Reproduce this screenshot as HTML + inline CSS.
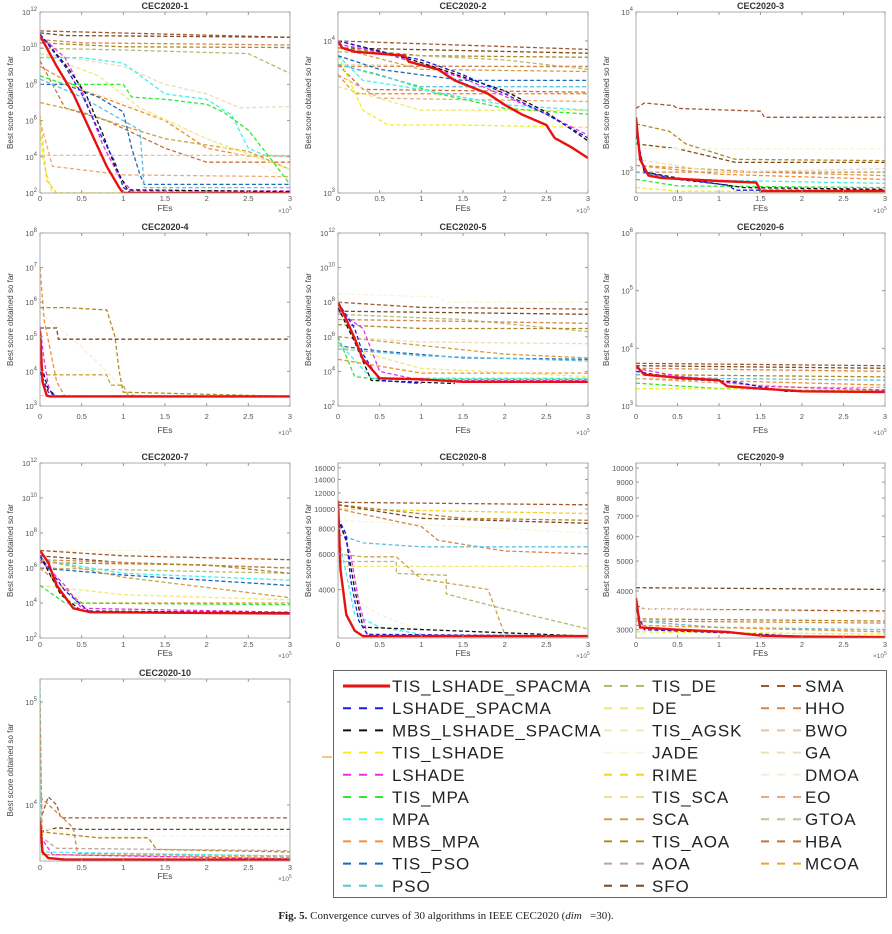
<!DOCTYPE html>
<html><head><meta charset="utf-8">
<style>
body{margin:0;background:#fff;width:892px;height:934px;overflow:hidden;font-family:"Liberation Sans",sans-serif}
#wrap{position:relative;width:892px;height:934px}
svg{position:absolute;left:0;top:0}
.cap{position:absolute;left:0;width:892px;top:910px;text-align:center;font-family:"Liberation Serif",serif;font-size:11px;color:#222}
</style></head><body>
<div id="wrap">
<svg id="fig" width="892" height="934"></svg>
<div class="cap"><b>Fig. 5.</b> Convergence curves of 30 algorithms in IEEE CEC2020 (<i>dim</i> &nbsp;&nbsp;=30).</div>
</div>
<script>
const names=["TIS_LSHADE_SPACMA","LSHADE_SPACMA","MBS_LSHADE_SPACMA","TIS_LSHADE","LSHADE","TIS_MPA","MPA","MBS_MPA","TIS_PSO","PSO","TIS_DE","DE","TIS_AGSK","JADE","RIME","TIS_SCA","SCA","TIS_AOA","AOA","SFO","SMA","HHO","BWO","GA","DMOA","EO","GTOA","HBA","MCOA"];
const colors=["#e81010","#1a1ae8","#111111","#f0f020","#e830e8","#30e830","#40f0f0","#f09030","#1a6ab8","#60c0e0","#b8b870","#f0e878","#f0ecb8","#f8f4d8","#f8d020","#ece090","#d0a040","#b08a20","#c8a0a0","#7a4a20","#a05830","#d08850","#e8c0a0","#ecdcb8","#f6f0d8","#eca878","#cfbca0","#c87038","#f0a820"];
const titles=["CEC2020-1","CEC2020-2","CEC2020-3","CEC2020-4","CEC2020-5","CEC2020-6","CEC2020-7","CEC2020-8","CEC2020-9","CEC2020-10"];
const yMin=[1e2,1000,740,1e3,1e2,1e3,1e2,2300,2820,2860];
const yMax=[1e12,15500,1e4,1e8,1e12,1e6,1e12,16900,10380,167000];
const yTicks=[[1e2,1e4,1e6,1e8,1e10,1e12],[1e3,1e4],[1e3,1e4],[1e3,1e4,1e5,1e6,1e7,1e8],[1e2,1e4,1e6,1e8,1e10,1e12],[1e3,1e4,1e5,1e6],[1e2,1e4,1e6,1e8,1e10,1e12],[4000,6000,8000,10000,12000,14000,16000],[3000,4000,5000,6000,7000,8000,9000,10000],[1e4,1e5]];
const yPowLabels=[true,true,true,true,true,true,true,false,false,true];
const xTicks=[0,0.5,1,1.5,2,2.5,3];
// series per panel: [seriesIndex, [[FEs(1e5), best score], ...]]
const p1=[[20,[[0,9e10],[3,4e10]]],[19,[[0,7e10],[0.3,5e10],[3,4e10]]],[21,[[0,3e10],[0.5,2e10],[3,1.5e10]]],[17,[[0,2e10],[1,1.2e10],[3,1.1e10]]],[10,[[0,1e10],[1,8e9],[2.5,5e9],[3,4e8]]],[23,[[0,5e9],[1,1e9],[1.5,1e8],[2,3e7],[2.4,5e6],[3,6e6]]],[7,[[0,1e9],[0.5,5e7],[1.5,1e6],[2,3e4],[2.5,1.1e4],[3,1.1e4]]],[27,[[0,2e9],[0.3,5e6],[0.8,1e6],[1.5,3e4],[2,5e3],[3,5e3]]],[22,[[0,1.2e4],[3,1.2e4]]],[25,[[0,1e6],[0.15,3e3],[1,1e3],[3,8e2]]],[16,[[0,1e7],[0.5,3e6],[1,5e5],[1.5,1e5],[2.5,2e4],[3,2e3]]],[3,[[0,3e5],[0.05,3e3],[0.15,1e2],[3,1e2]]],[11,[[0,5e9],[0.7,3e8],[1.2,5e6],[2,1e5],[3,2e3]]],[13,[[0,3e8],[1,1e7],[2,1e5],[3,5e2]]],[14,[[0,2e6],[0.08,5e2],[0.2,1e2],[3,1e2]]],[6,[[0,3e9],[0.5,3e9],[1,1.5e9],[1.5,3e7],[2,1.5e7],[2.3,2e6],[2.5,3e4],[2.7,1.2e4],[3,1.1e4]]],[5,[[0,3e8],[0.3,1e8],[1,1e8],[1.1,2e7],[1.5,1.5e7],[2,8e6],[2.2,3e6],[2.5,3e5],[2.8,5e3],[3,3e2]]],[8,[[0,1e8],[0.3,1e8],[0.7,2e7],[1,3e6],[1.1,3e4],[1.2,1e3],[1.25,3e2],[3,3e2]]],[9,[[0,2e8],[0.5,2e7],[1.2,3e5],[1.25,2e2],[3,2e2]]],[4,[[0,5e10],[0.3,3e9],[0.5,5e7],[0.75,5e4],[0.95,8e2],[1.1,1.3e2],[3,1.3e2]]],[2,[[0,6e10],[0.32,1e9],[0.55,3e7],[0.75,2e5],[0.9,3e3],[1.05,1.5e2],[3,1.2e2]]],[1,[[0,6e10],[0.3,1e9],[0.5,3e7],[0.7,3e5],[0.9,5e3],[1,2e2],[1.1,1e2],[3,1e2]]],[0,[[0,5e10],[0.2,1e9],[0.4,3e7],[0.6,3e5],[0.8,3e3],[0.95,2e2],[1,1e2],[3,1e2]]]];
const p2=[[20,[[0,1e4],[3,8800]]],[19,[[0,9000],[3,8300]]],[17,[[0,9000],[1,8000],[3,7800]]],[10,[[0,8500],[2,7500],[3,6500]]],[16,[[0,9000],[1,6500],[3,6300]]],[23,[[0,7000],[3,6700]]],[21,[[0,6800],[3,6800]]],[7,[[0,6000],[0.2,4500],[3,4500]]],[27,[[0,7000],[0.3,4800],[3,4600]]],[25,[[0,6000],[0.5,4200],[3,4000]]],[11,[[0,5000],[1,3500],[3,3500]]],[3,[[0,8000],[0.3,3500],[0.6,2800],[1.5,2800],[3,2700]]],[5,[[0,7000],[0.5,6000],[1.2,4500],[2,3600],[3,3300]]],[6,[[0,8000],[0.3,5500],[0.8,5000],[2,3800],[3,3500]]],[8,[[0,8000],[0.5,6500],[1.5,5500],[3,5500]]],[9,[[0,7000],[1,5000],[3,5000]]],[4,[[0,9500],[0.5,8500],[1.5,5700],[2.5,3300],[3,2400]]],[2,[[0,1e4],[0.5,8600],[1,7200],[1.5,5800],[2,4700],[2.5,3400],[3,2200]]],[1,[[0,1e4],[0.5,8500],[1,7500],[1.5,6000],[2,4500],[2.5,3300],[3,2300]]],[0,[[0,1e4],[0.05,9000],[0.2,8500],[0.8,8000],[0.85,7300],[1.2,6500],[1.4,5500],[1.8,4500],[2,3800],[2.2,3300],[2.5,2800],[2.6,2300],[2.8,2000],[3,1700]]]];
const p3=[[20,[[0,2500],[0.1,2700],[0.45,2600],[0.5,2500],[1.5,2400],[1.55,2200],[3,2200]]],[17,[[0,2000],[0.4,1800],[0.6,1500],[1.2,1200],[3,1180]]],[19,[[0,1500],[0.5,1400],[1.2,1150],[3,1150]]],[13,[[0,1400],[3,1400]]],[16,[[0,1100],[1.5,1000],[3,950]]],[21,[[0,1000],[3,1000]]],[23,[[0,1200],[1,1000],[3,1050]]],[7,[[0,1100],[1,970],[3,900]]],[6,[[0,1000],[0.5,900],[3,850]]],[5,[[0,900],[0.5,820],[3,800]]],[3,[[0,800],[0.5,760],[3,750]]],[2,[[0,1700],[0.1,1000],[0.6,900],[1.3,800],[3,780]]],[1,[[0,1800],[0.1,1000],[0.5,900],[1.1,830],[1.2,770],[3,770]]],[0,[[0,2200],[0.05,1200],[0.15,950],[0.3,920],[1,880],[1.45,860],[1.5,760],[3,760]]]];
const p4=[[24,[[0,5e5],[0.5,5e4],[0.8,1e4],[1,3e3]]],[7,[[0,1e7],[0.05,3e5],[0.2,5e3],[0.3,1900]]],[17,[[0,7e5],[0.3,7e5],[0.8,6e5],[0.9,1e5],[0.95,1e4],[1,2500],[3,1900]]],[19,[[0,1.8e5],[0.2,1.8e5],[0.22,8.5e4],[3,8.5e4]]],[16,[[0,8e3],[0.8,8e3],[0.85,4e3],[1,4e3],[1.05,2.2e3],[1.2,1900]]],[4,[[0,2e5],[0.05,2e4],[0.1,4e3],[0.15,2e3],[3,1900]]],[2,[[0,2e4],[0.1,3e3],[0.2,1900],[3,1900]]],[1,[[0,1e4],[0.1,2.5e3],[0.2,1900],[3,1900]]],[3,[[0,2000],[3,1950]]],[0,[[0,1.5e5],[0.03,5e3],[0.08,2e3],[0.12,1900],[3,1900]]]];
const p5=[[13,[[0,3e8],[1.2,2e8],[1.3,1e8],[3,1e8]]],[20,[[0,1e8],[1,5e7],[3,4e7]]],[19,[[0,3e7],[3,2e7]]],[10,[[0,2e7],[1.5,1e7],[3,2e6]]],[21,[[0,1e7],[3,6e6]]],[17,[[0,5e6],[1,3e6],[3,3e6]]],[23,[[0,1e6],[1,5e5],[3,4e5]]],[16,[[0,1e6],[2,1e5],[3,6e4]]],[8,[[0,3e5],[0.5,1.5e5],[1.5,6e4],[3,5e4]]],[9,[[0,2e5],[1,8e4],[3,4e4]]],[7,[[0,5e4],[1,8e3],[3,8e3]]],[11,[[0,3e5],[1,1.5e4],[3,5e3]]],[6,[[0,5e5],[0.4,4e3],[3,4e3]]],[5,[[0,1e6],[0.2,5e3],[0.5,3.5e3],[3,3.5e3]]],[4,[[0,3e7],[0.3,3e6],[0.5,1e4],[1,3e3],[3,3e3]]],[2,[[0,5e7],[0.2,5e5],[0.4,3e3],[1.4,2e3]]],[1,[[0,1e8],[0.2,3e6],[0.3,1e5],[0.5,3e3],[1,2e3]]],[0,[[0,1e8],[0.1,1e7],[0.2,8e5],[0.3,5e4],[0.5,4e3],[1,3.5e3],[1.5,2.5e3],[3,2.5e3]]]];
const p6=[[20,[[0,5500],[3,5000]]],[19,[[0,5000],[3,4500]]],[21,[[0,4500],[3,4000]]],[13,[[0,4000],[3,3800]]],[17,[[0,3500],[3,3200]]],[9,[[0,3500],[1,3000],[3,2800]]],[7,[[0,3000],[3,2300]]],[25,[[0,3000],[2,2100],[3,2100]]],[5,[[0,2500],[1,2000],[3,1800]]],[3,[[0,2000],[3,1900]]],[4,[[0,4500],[0.5,3300],[1.5,2200],[3,1900]]],[1,[[0,4000],[0.5,3000],[1.2,2600],[1.8,1800],[3,1800]]],[0,[[0,5000],[0.1,3500],[0.5,3100],[1,2800],[1.1,2200],[1.5,2000],[2,1800],[3,1750]]]];
const p7=[[13,[[0,1e7],[1.5,1e7],[1.6,5e6],[3,3e6]]],[20,[[0,1e7],[1,5e6],[3,3e6]]],[19,[[0,5e6],[1,2e6],[3,1e6]]],[21,[[0,3e6],[3,1e6]]],[10,[[0,1e6],[3,5e5]]],[17,[[0,2e6],[2,1.5e6],[3,5e5]]],[6,[[0,3e6],[1,5e5],[3,2e5]]],[8,[[0,1e6],[1,4e5],[3,1e5]]],[16,[[0,3e6],[1,3e5],[3,2e4]]],[11,[[0,1e5],[1,3e4],[3,1.5e4]]],[7,[[0,1e6],[0.5,1e4],[3,1e4]]],[5,[[0,1e5],[0.3,1e4],[3,8e3]]],[4,[[0,3e6],[0.3,1e5],[0.5,5e3],[3,3e3]]],[2,[[0,5e6],[0.25,3e4],[0.5,3.5e3],[3,2.8e3]]],[1,[[0,5e6],[0.3,5e4],[0.6,3e3],[3,2.8e3]]],[0,[[0,1e7],[0.1,2e6],[0.2,1e5],[0.4,5e3],[0.6,3e3],[3,2.5e3]]]];
const p8=[[20,[[0,10800],[3,10500]]],[14,[[0,10000],[3,9500]]],[17,[[0,10500],[1.5,9000],[3,8800]]],[19,[[0,10500],[1,9000],[3,8500]]],[13,[[0,8800],[2,8000],[3,7600]]],[21,[[0,10000],[1,8200],[1.2,7000],[2,6200],[3,6000]]],[9,[[0,7500],[0.3,6800],[1,6500],[3,6500]]],[11,[[0,5200],[3,5200]]],[10,[[0,5500],[0.7,5500],[0.7,4800],[1.3,4700],[1.3,3800],[2,3200],[3,2550]]],[16,[[0,6000],[0.3,5800],[0.7,5800],[1,4500],[1.8,4000],[2,2400]]],[24,[[0,4000],[0.5,3000],[1,2500]]],[6,[[0,7500],[0.2,3000],[0.5,2600],[1,2400]]],[4,[[0,9000],[0.15,6000],[0.25,3500],[0.35,2400]]],[2,[[0,9000],[0.1,7000],[0.2,4000],[0.3,2600],[3,2350]]],[1,[[0,9000],[0.1,7500],[0.15,4500],[0.25,2800],[0.35,2400],[3,2350]]],[0,[[0,11000],[0.03,5000],[0.1,3000],[0.2,2500],[0.3,2350],[3,2350]]]];
const p9=[[13,[[0,10300],[0.02,4000],[0.05,3100],[3,3050]]],[19,[[0,4100],[3,4050]]],[20,[[0,3600],[0.1,3500],[3,3450]]],[24,[[0,3500],[3,3400]]],[17,[[0,3250],[3,3200]]],[21,[[0,3200],[3,3150]]],[9,[[0,3200],[1,3050],[3,3000]]],[7,[[0,3100],[3,2950]]],[3,[[0,2950],[3,2900]]],[1,[[0,3500],[0.1,3000],[1.5,2900],[2,2850],[3,2850]]],[0,[[0,3800],[0.05,3050],[0.5,3000],[1.1,2950],[1.5,2870],[2,2850],[3,2840]]]];
const p10=[[20,[[0,7000],[0.1,12000],[0.2,10000],[0.25,7500],[3,7500]]],[19,[[0,5500],[0.2,6000],[0.5,5800],[3,5800]]],[13,[[0,6000],[0.5,5000],[3,5000]]],[17,[[0,5500],[0.7,4800],[1.3,4800],[1.4,3700],[3,3500]]],[18,[[0,5000],[0.2,3800],[3,3600]]],[21,[[0,12000],[0.4,6000],[0.45,3400],[3,3200]]],[6,[[0,160000],[0.02,3500],[3,3200]]],[7,[[0,100000],[0.03,3300],[3,3100]]],[4,[[0,5000],[0.15,3300],[3,3000]]],[0,[[0,7000],[0.03,3500],[0.1,3050],[0.3,2950],[3,2950]]]];
const panelsData=[p1,p2,p3,p4,p5,p6,p7,p8,p9,p10];

const NS="http://www.w3.org/2000/svg";
const svg=document.getElementById('fig');
function mk(tag,attrs,parent){const e=document.createElementNS(NS,tag);for(const k in attrs)e.setAttribute(k,attrs[k]);(parent||svg).appendChild(e);return e;}
const colX=[[40,290],[338,588],[636,885]];
const rowY=[[12,193],[233,406],[463,638],[679,861]];
const lblOff=[[8,18],[13,27],[9,18],[9,18]];
function sup(t,v,pow){const ex=Math.round(Math.log10(v));
 if(pow){t.textContent='10';const s=document.createElementNS(NS,'tspan');s.setAttribute('dy','-4');s.setAttribute('font-size','6');s.textContent=String(ex);t.appendChild(s);} else t.textContent=String(v);}
panelsData.forEach((series,pi)=>{
 const c=pi%3,r=Math.floor(pi/3);const [x0,x1]=colX[c];const [y0,y1]=rowY[r];
 const g=mk('g',{},svg);
 
 
 const lmin=Math.log10(yMin[pi]),lmax=Math.log10(yMax[pi]);
 const sx=v=>x0+v/3*(x1-x0);
 const sy=v=>y1-(Math.log10(v)-lmin)/(lmax-lmin)*(y1-y0);
 const cid='clip'+pi;
 const cp=mk('clipPath',{id:cid},g);mk('rect',{x:x0,y:y0,width:x1-x0,height:y1-y0},cp);
 const tt=mk('text',{x:(x0+x1)/2,y:y0-3,'text-anchor':'middle','font-size':9,fill:'#333','font-weight':'bold'},g);tt.textContent=titles[pi];
 
 
 const lg=mk('g',{'clip-path':'url(#'+cid+')'},g);
 series.forEach(([si,pts])=>{
  const d=pts.map((p,i)=>(i?'L':'M')+sx(p[0]).toFixed(1)+','+sy(p[1]).toFixed(1)).join('');
  const isMain=si===0;
  const pth=mk('path',{d:d,fill:'none',stroke:colors[si],'stroke-width':isMain?2.4:1.3,'stroke-dasharray':isMain?'none':'4,2.5'},lg);
  
  
 });
 const box=mk('rect',{x:x0,y:y0,width:x1-x0,height:y1-y0,fill:'none',stroke:'#999','stroke-width':0.8},g);
 
 
 xTicks.forEach(v=>{const X=sx(v);mk('line',{x1:X,x2:X,y1:y1,y2:y1-3,stroke:'#999'},g);mk('line',{x1:X,x2:X,y1:y0,y2:y0+3,stroke:'#999'},g);
  const t=mk('text',{x:X,y:y1+lblOff[r][0],'text-anchor':'middle','font-size':7.5,fill:'#555'},g);t.textContent=String(v);
  
  });
 yTicks[pi].forEach(v=>{const Y=sy(v);mk('line',{x1:x0,x2:x0+3,y1:Y,y2:Y,stroke:'#999'},g);mk('line',{x1:x1,x2:x1-3,y1:Y,y2:Y,stroke:'#999'},g);
  const t=mk('text',{x:x0-3,y:Y+3,'text-anchor':'end','font-size':7.5,fill:'#555'},g);sup(t,v,yPowLabels[pi]);
  
  });
 const xt=mk('text',{x:(x0+x1)/2,y:y1+lblOff[r][1],'text-anchor':'middle','font-size':8.5,fill:'#444'},g);xt.textContent='FEs';
 
 
 const xm=mk('text',{x:x1-12,y:y1+lblOff[r][1]+2,'font-size':6.5,fill:'#666'},g);xm.textContent='×10';const s5=document.createElementNS(NS,'tspan');s5.setAttribute('dy','-3');s5.setAttribute('font-size','5');s5.textContent='5';xm.appendChild(s5);
 
 
 const yc=(y0+y1)/2;
 const yt=mk('text',{x:x0-27,y:yc,'text-anchor':'middle','font-size':8,fill:'#444',transform:'rotate(-90 '+(x0-27)+' '+yc+')'},g);yt.textContent='Best score obtained so far';
 
 
});
// legend
const lgG=mk('g',{},svg);


mk('rect',{x:333.5,y:670.5,width:553,height:227,fill:'#fff',stroke:'#666','stroke-width':1},lgG);
mk('line',{x1:322,x2:332,y1:757,y2:757,stroke:'#f0c890','stroke-width':2},svg);
const colLX=[[343,392],[604,652],[761,805]];
names.forEach((n,i)=>{const c=i<10?0:(i<20?1:2);const rr=i<10?i:(i<20?i-10:i-20);const Y=686+rr*22.2;
 const eg=mk('g',{},lgG);
 
 
 mk('line',{x1:colLX[c][0],x2:colLX[c][1]-2,y1:Y,y2:Y,stroke:colors[i],'stroke-width':i===0?3:2,'stroke-dasharray':i===0?'none':'8,8'},eg);
 const t=mk('text',{x:colLX[c][1],y:Y+6,'font-size':17,'letter-spacing':0.9,fill:'#222'},eg);t.textContent=n;});
</script>
</body></html>
